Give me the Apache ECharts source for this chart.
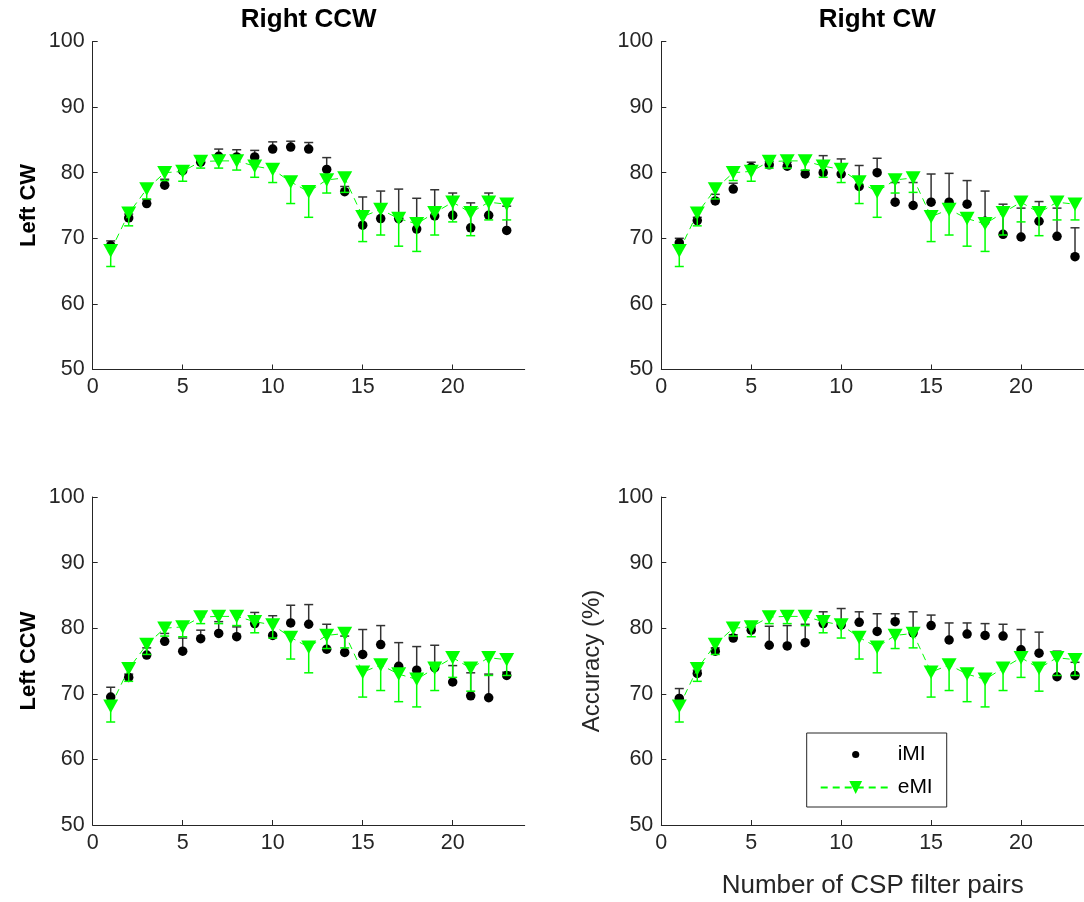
<!DOCTYPE html>
<html>
<head>
<meta charset="utf-8">
<script src="https://cdn.jsdelivr.net/npm/echarts@6/dist/echarts.min.js"></script>
<style>
  html, body { margin: 0; padding: 0; background: #fff; }
  #chart { width: 1084px; height: 902px; }
</style>
</head>
<body>
<div id="chart"></div>
<script>
// number of CSP filter pairs
const pairs = [1, 2, 3, 4, 5, 6, 7, 8, 9, 10, 11, 12, 13, 14, 15, 16, 17, 18, 19, 20, 21, 22, 23]

// eMI is the same in every panel
const eMI = [68.1, 73.8, 77.5, 80.0, 80.2, 81.7, 81.8, 81.8, 81.0, 80.5, 78.6, 77.1, 78.9, 79.2, 73.3, 74.4, 73.0, 72.2, 73.9, 75.5, 73.9, 75.5, 75.2]
const eMIErr = [2.4, 1.9, 1.5, 1.2, 1.5, 1.0, 1.1, 1.4, 1.7, 2.0, 3.3, 3.9, 2.0, 2.2, 3.8, 3.9, 4.2, 4.2, 3.4, 3.0, 3.5, 2.7, 2.4]

// iMI per panel
const iMI_leftCW_rightCCW = [68.9, 73.1, 75.3, 78.1, 80.3, 81.6, 82.5, 82.4, 82.4, 83.6, 83.9, 83.6, 80.5, 77.1, 72.0, 73.0, 73.0, 71.4, 73.4, 73.5, 71.6, 73.5, 71.2]
const err_leftCW_rightCCW = [0.7, 0.6, 0.6, 0.9, 0.5, 0.7, 1.1, 1.1, 1.0, 1.1, 0.9, 1.0, 1.8, 0.8, 4.3, 4.2, 4.5, 4.7, 4.0, 3.4, 3.8, 3.4, 3.7]

const iMI_leftCW_rightCW = [69.3, 72.7, 75.7, 77.5, 80.8, 81.2, 81.0, 79.8, 80.0, 79.8, 77.9, 80.0, 75.5, 75.0, 75.5, 75.5, 75.2, 72.6, 70.6, 70.2, 72.6, 70.3, 67.2]
const err_leftCW_rightCW = [0.7, 0.5, 1.0, 0.9, 0.8, 0.5, 0.6, 0.5, 2.6, 2.3, 3.2, 2.2, 3.0, 3.5, 4.3, 4.4, 3.6, 4.6, 4.6, 4.4, 3.0, 4.3, 4.4]

const iMI_leftCCW_rightCCW = [69.5, 72.5, 75.9, 78.0, 76.5, 78.4, 79.2, 78.7, 80.7, 78.9, 80.8, 80.6, 76.8, 76.3, 76.0, 77.5, 74.2, 73.6, 74.0, 71.8, 69.7, 69.4, 72.8]
const err_leftCCW_rightCCW = [1.5, 0.5, 1.1, 1.2, 2.0, 1.3, 1.8, 1.5, 1.7, 3.0, 2.7, 3.0, 3.8, 2.5, 3.8, 2.9, 3.6, 3.6, 3.4, 2.5, 3.5, 3.6, 0.5]

const iMI_leftCCW_rightCW = [69.3, 73.1, 76.5, 78.5, 79.7, 77.4, 77.3, 77.8, 80.7, 80.5, 80.9, 79.5, 81.0, 79.3, 80.4, 78.2, 79.1, 78.9, 78.8, 76.7, 76.2, 72.6, 72.8]
const err_leftCCW_rightCW = [1.5, 0.5, 0.5, 0.5, 0.5, 2.9, 3.1, 2.8, 1.8, 2.5, 1.6, 2.7, 1.2, 3.2, 1.6, 2.6, 1.7, 1.8, 1.8, 3.1, 3.2, 3.9, 2.0]

const xTicks = [0, 5, 10, 15, 20]

// right-hand panels are cut off by the picture edge, so their axis stops at 23.5
const panels = [
  { iMI: iMI_leftCW_rightCCW, err: err_leftCW_rightCCW, left: 92.7, top: 41.5, width: 432, xMax: 24, yName: 'Left CW', yBold: true, yGap: 53, ySize: 22 },
  { iMI: iMI_leftCW_rightCW, err: err_leftCW_rightCW, left: 661.3, top: 41.5, width: 423, xMax: 23.5, yName: '', yBold: true, yGap: 53, ySize: 22 },
  { iMI: iMI_leftCCW_rightCCW, err: err_leftCCW_rightCCW, left: 92.7, top: 497, width: 432, xMax: 24, yName: 'Left CCW', yBold: true, yGap: 53, ySize: 22 },
  { iMI: iMI_leftCCW_rightCW, err: err_leftCCW_rightCW, left: 661.3, top: 497, width: 423, xMax: 23.5, yName: 'Accuracy (%)', yBold: false, yGap: 57, ySize: 24, xName: 'Number of CSP filter pairs' }
]

const FONT = 'Arial, "Liberation Sans", Helvetica, sans-serif'
const AXIS_COLOR = '#262626'
const GREEN = '#00ff00'
const TRI = 'path://M0,0L10,0L5,8.7Z'

const makeErrBar = (up, color, cap) => (params, api) => {
  const x = api.value(0)
  const y = api.value(1)
  const e = api.value(2)
  const p0 = api.coord([x, y])
  const p1 = api.coord([x, up ? y + e : y - e])
  const style = { stroke: color, lineWidth: 1.5 }
  return {
    type: 'group',
    children: [
      { type: 'line', shape: { x1: p0[0], y1: p0[1], x2: p1[0], y2: p1[1] }, style },
      { type: 'line', shape: { x1: p1[0] - cap, y1: p1[1], x2: p1[0] + cap, y2: p1[1] }, style }
    ]
  }
}

const chart = echarts.init(document.getElementById('chart'))

const grid = []
const xAxis = []
const yAxis = []
const series = []

panels.forEach((p, i) => {
  grid.push({ left: p.left, top: p.top, width: p.width, height: 328 })
  xAxis.push({
    gridIndex: i,
    type: 'value',
    min: 0,
    max: p.xMax,
    interval: 5,
    name: p.xName || '',
    nameLocation: 'middle',
    nameGap: 48,
    nameTextStyle: { color: AXIS_COLOR, fontSize: 26, fontFamily: FONT },
    axisLine: { lineStyle: { color: AXIS_COLOR, width: 1 } },
    axisTick: { inside: true, length: 5, customValues: xTicks, lineStyle: { color: AXIS_COLOR } },
    axisLabel: {
      customValues: xTicks,
      color: AXIS_COLOR, fontSize: 21.5, fontFamily: FONT, margin: 7,
      formatter: v => (v % 5 === 0 ? String(v) : '')
    },
    splitLine: { show: false }
  })
  yAxis.push({
    gridIndex: i,
    type: 'value',
    min: 50,
    max: 100,
    interval: 10,
    name: p.yName,
    nameLocation: 'middle',
    nameGap: p.yGap,
    nameTextStyle: { color: p.yBold ? '#000' : AXIS_COLOR, fontSize: p.ySize, fontWeight: p.yBold ? 'bold' : 'normal', fontFamily: FONT },
    axisLine: { show: true, lineStyle: { color: AXIS_COLOR, width: 1 } },
    axisTick: { show: true, inside: true, length: 5, lineStyle: { color: AXIS_COLOR } },
    axisLabel: { color: AXIS_COLOR, fontSize: 21.5, fontFamily: FONT, margin: 8 },
    splitLine: { show: false }
  })

  series.push({
    name: 'iMI err',
    type: 'custom',
    xAxisIndex: i,
    yAxisIndex: i,
    renderItem: makeErrBar(true, '#333', 4.5),
    encode: { x: 0, y: 1 },
    data: pairs.map((x, k) => [x, p.iMI[k], p.err[k]]),
    silent: true,
    z: 2
  })
  series.push({
    name: 'iMI',
    type: 'scatter',
    xAxisIndex: i,
    yAxisIndex: i,
    symbol: 'circle',
    symbolSize: 9.5,
    itemStyle: { color: '#000', opacity: 1 },
    data: pairs.map((x, k) => [x, p.iMI[k]]),
    z: 3
  })
  series.push({
    name: 'eMI err',
    type: 'custom',
    xAxisIndex: i,
    yAxisIndex: i,
    renderItem: makeErrBar(false, GREEN, 4.5),
    encode: { x: 0, y: 1 },
    data: pairs.map((x, k) => [x, eMI[k], eMIErr[k]]),
    silent: true,
    z: 4
  })
  series.push({
    name: 'eMI',
    type: 'line',
    xAxisIndex: i,
    yAxisIndex: i,
    symbol: TRI,
    symbolSize: [15, 13.5],
    symbolKeepAspect: false,
    showAllSymbol: true,
    lineStyle: { color: GREEN, width: 1, type: [7, 5] },
    itemStyle: { color: GREEN, borderWidth: 0 },
    data: pairs.map((x, k) => [x, eMI[k]]),
    z: 5
  })
})

chart.setOption({
  animation: false,
  backgroundColor: '#fff',
  grid,
  xAxis,
  yAxis,
  series,
  legend: {
    orient: 'vertical',
    left: 806.7,
    top: 733,
    padding: [11, 14, 9, 13],
    itemGap: 12,
    itemWidth: 70,
    itemHeight: 16,
    backgroundColor: '#fff',
    borderColor: AXIS_COLOR,
    borderWidth: 1,
    borderRadius: 0,
    textStyle: { color: '#000', fontSize: 21, fontFamily: FONT, padding: [0, 0, 0, 2] },
    data: [
      { name: 'iMI', icon: 'path://M0,0M20,20M14.5,10A4.5,4.5,0,1,1,5.5,10A4.5,4.5,0,1,1,14.5,10Z', itemStyle: { color: '#000' } },
      { name: 'eMI' }
    ]
  },
  graphic: [
    { type: 'text', x: 308.7, y: 20, style: { text: 'Right CCW', font: 'bold 26px ' + FONT, fill: '#000', textAlign: 'center', textVerticalAlign: 'middle' } },
    { type: 'text', x: 877.3, y: 20, style: { text: 'Right CW', font: 'bold 26px ' + FONT, fill: '#000', textAlign: 'center', textVerticalAlign: 'middle' } }
  ]
})
</script>
</body>
</html>
